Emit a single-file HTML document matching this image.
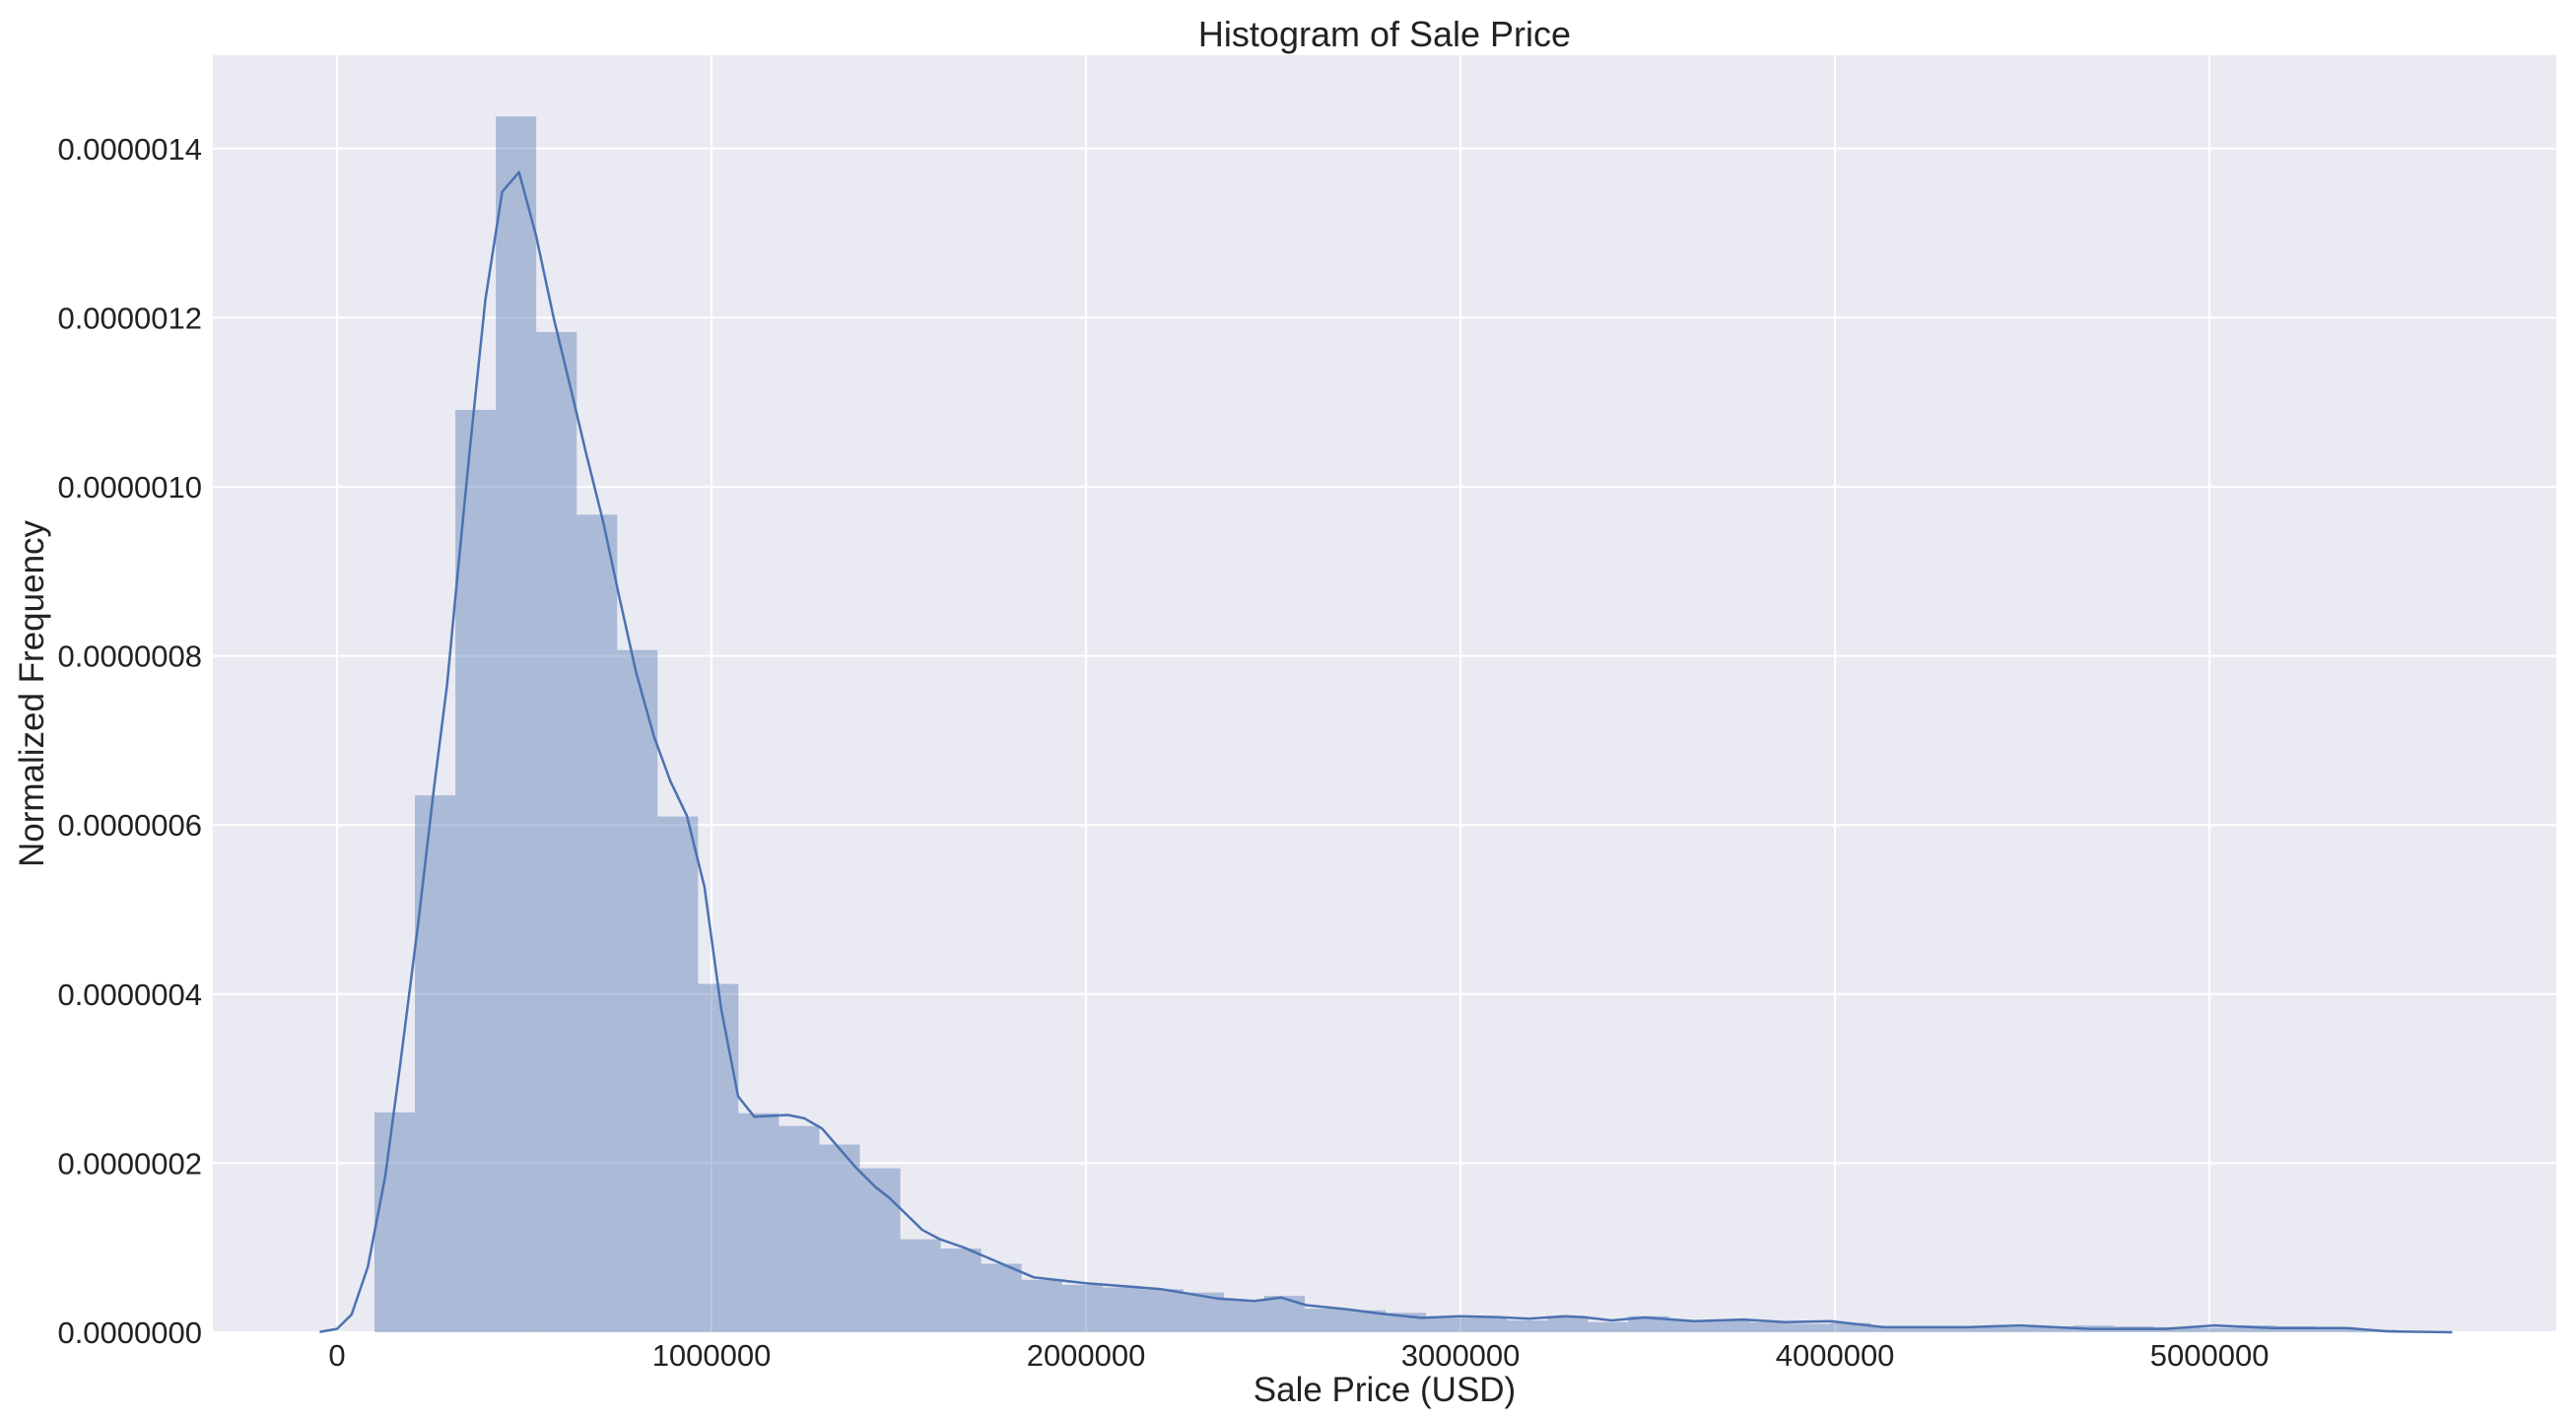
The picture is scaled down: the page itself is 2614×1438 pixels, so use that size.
<!DOCTYPE html>
<html><head><meta charset="utf-8"><style>
html,body{margin:0;padding:0;background:#fff;}
svg{display:block;font-family:"Liberation Sans",Arial,sans-serif;}
</style></head><body>
<svg id="chart" width="2614" height="1438" xmlns="http://www.w3.org/2000/svg">
<rect x="216" y="56" width="2378" height="1296" fill="#EAEAF2"/>
<g id="grid"></g>
<g id="bars"></g>
<g id="kde"></g>
<g id="xticks"></g>
<g id="yticks"></g>
<text x="1405" y="47" font-size="36" text-anchor="middle" fill="#222">Histogram of Sale Price</text>
<text x="1405" y="1422" font-size="35" text-anchor="middle" fill="#222">Sale Price (USD)</text>
<text transform="translate(44,704) rotate(-90)" font-size="35" text-anchor="middle" fill="#222">Normalized Frequency</text>
</svg>
<script>
const binStart = 100000;
const binWidth = 108000;
const barHeights = [0.260,0.635,1.091,1.438,1.183,0.967,0.807,0.610,0.412,0.259,
0.244,0.222,0.194,0.110,0.099,0.081,0.062,0.056,0.053,0.051,
0.047,0.038,0.043,0.028,0.026,0.023,0.017,0.017,0.014,0.019,
0.012,0.019,0.014,0.014,0.012,0.010,0.011,0.006,0.006,0.006,
0.006,0.007,0.008,0.007,0.006,0.005,0.008,0.007,0.006,0.003];
const kdeX = [-0.046,0.0,0.039,0.082,0.129,0.170,0.217,0.259,0.294,0.317,0.353,0.396,0.441,0.486,0.531,0.579,0.623,0.666,0.711,0.752,0.799,0.846,0.890,0.934,0.981,1.026,1.071,1.114,1.204,1.248,1.295,1.387,1.440,1.475,1.563,1.610,1.675,1.722,1.860,2.0,2.2,2.35,2.45,2.521,2.588,2.698,2.786,2.896,3.0,3.095,3.183,3.278,3.326,3.404,3.492,3.624,3.756,3.867,3.988,4.131,4.352,4.495,4.682,4.881,5.013,5.168,5.366,5.476,5.648];
const kdeY = [0.0005,0.004,0.021,0.077,0.185,0.321,0.485,0.644,0.766,0.874,1.038,1.221,1.349,1.372,1.298,1.199,1.118,1.038,0.958,0.873,0.780,0.705,0.652,0.611,0.527,0.382,0.279,0.255,0.257,0.253,0.241,0.194,0.171,0.159,0.121,0.110,0.100,0.091,0.065,0.058,0.051,0.040,0.037,0.041,0.032,0.027,0.022,0.017,0.019,0.018,0.016,0.019,0.018,0.014,0.0175,0.013,0.015,0.012,0.013,0.006,0.006,0.008,0.004,0.004,0.008,0.005,0.005,0.001,0.0];
const xTicks = [0,1000000,2000000,3000000,4000000,5000000];
const xTickLabels = ["0","1000000","2000000","3000000","4000000","5000000"];
const yTicks = [0,0.2,0.4,0.6,0.8,1.0,1.2,1.4];
const yTickLabels = ["0.0000000","0.0000002","0.0000004","0.0000006","0.0000008","0.0000010","0.0000012","0.0000014"];

const NS = "http://www.w3.org/2000/svg";
const L=216,R=2594,T=56,B=1352;
const xMin=-331600, xMax=5926000, yMax=1.5105;
function xs(v){return L+(v-xMin)/(xMax-xMin)*(R-L);}
function ys(v){return B-v/yMax*(B-T);}
function mk(tag,attrs,parent){const e=document.createElementNS(NS,tag);for(const k in attrs)e.setAttribute(k,attrs[k]);parent.appendChild(e);return e;}

const grid=document.getElementById('grid');
xTicks.forEach((t,i)=>{
  const l=mk('line',{x1:xs(t),x2:xs(t),y1:T,y2:B,stroke:'#fff','stroke-width':2},grid);
  
  
  const tx=mk('text',{x:xs(t),y:1386,'font-size':31,'text-anchor':'middle',fill:'#222'},document.getElementById('xticks'));
  tx.textContent=xTickLabels[i];
  
  
});
yTicks.forEach((t,i)=>{
  const l=mk('line',{x1:L,x2:R,y1:ys(t),y2:ys(t),stroke:'#fff','stroke-width':2},grid);
  
  
  const tx=mk('text',{x:205,y:ys(t)+11,'font-size':31,'text-anchor':'end',fill:'#222'},document.getElementById('yticks'));
  tx.textContent=yTickLabels[i];
  
  
});
const bars=document.getElementById('bars');
barHeights.forEach((h,i)=>{
  const x0=xs(binStart+i*binWidth), x1=xs(binStart+(i+1)*binWidth);
  const r=mk('rect',{x:x0,y:ys(h),width:x1-x0,height:B-ys(h),fill:'#4C72B0','fill-opacity':0.4},bars);
  
  
});
const pts=kdeX.map((x,i)=>xs(x*1e6).toFixed(1)+','+ys(kdeY[i]).toFixed(1)).join(' ');
const pl=mk('polyline',{points:pts,fill:'none',stroke:'#4C72B0','stroke-width':2.5,'stroke-linejoin':'round'},document.getElementById('kde'));


</script>
</body></html>
